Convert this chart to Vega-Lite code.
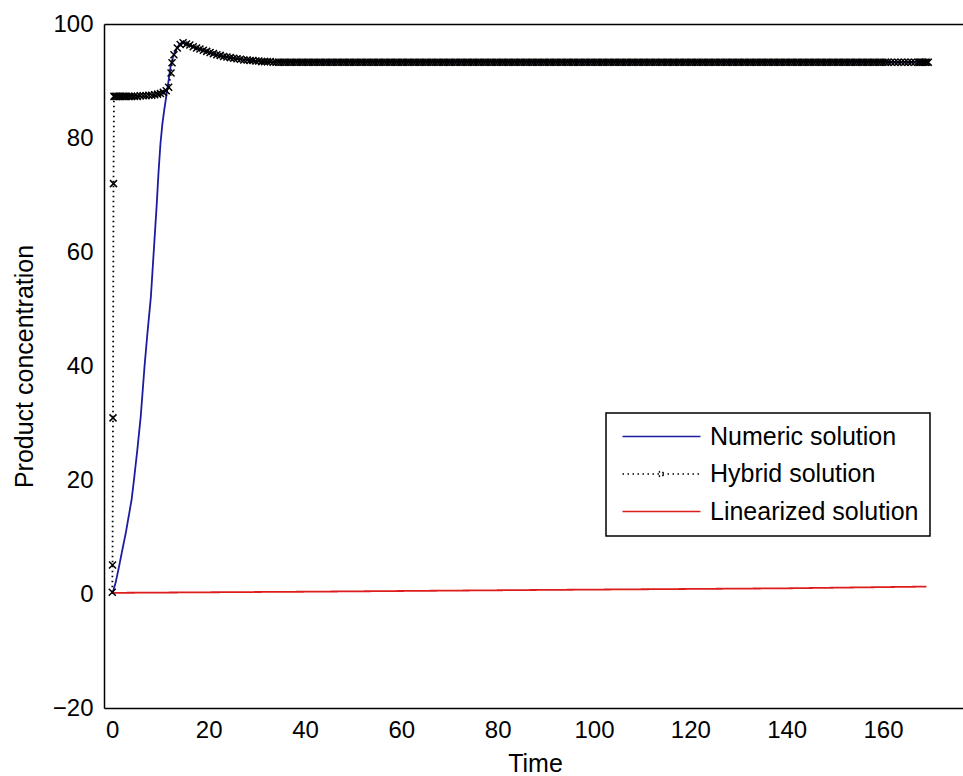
{
"$schema": "https://vega.github.io/schema/vega-lite/v6.json",
"width": 859, "height": 684,
"autosize": {"type": "none"},
"padding": {"left": 104, "top": 24, "right": 0, "bottom": 68},
"background": "white",
"datasets": {"d": [
{"s":"Numeric solution","t":0,"y":0},{"s":"Numeric solution","t":0.7,"y":2},{"s":"Numeric solution","t":1.4,"y":4.8},{"s":"Numeric solution","t":2.1,"y":7.8},{"s":"Numeric solution","t":2.8,"y":10.7},{"s":"Numeric solution","t":3.4,"y":13.6},{"s":"Numeric solution","t":4.0,"y":16.5},{"s":"Numeric solution","t":4.5,"y":20},{"s":"Numeric solution","t":5.2,"y":25.3},{"s":"Numeric solution","t":5.9,"y":31.1},{"s":"Numeric solution","t":6.7,"y":40},{"s":"Numeric solution","t":7.3,"y":45.8},{"s":"Numeric solution","t":8.0,"y":52},{"s":"Numeric solution","t":8.6,"y":60},{"s":"Numeric solution","t":9.2,"y":68},{"s":"Numeric solution","t":9.6,"y":74},{"s":"Numeric solution","t":10.0,"y":79},{"s":"Numeric solution","t":10.4,"y":82.5},{"s":"Numeric solution","t":10.8,"y":85},{"s":"Numeric solution","t":11.5,"y":89},{"s":"Numeric solution","t":12.1,"y":92.5},{"s":"Numeric solution","t":12.6,"y":94.2},{"s":"Numeric solution","t":13.2,"y":95.5},{"s":"Numeric solution","t":14.0,"y":96.5},{"s":"Numeric solution","t":14.6,"y":96.8},{"s":"Numeric solution","t":15.3,"y":96.6},{"s":"Numeric solution","t":16,"y":96.3},{"s":"Numeric solution","t":17,"y":95.9},{"s":"Numeric solution","t":18,"y":95.6},{"s":"Numeric solution","t":20,"y":95.0},{"s":"Numeric solution","t":23,"y":94.3},{"s":"Numeric solution","t":26,"y":93.9},{"s":"Numeric solution","t":30,"y":93.5},{"s":"Numeric solution","t":35,"y":93.3},{"s":"Numeric solution","t":169,"y":93.3},
{"s":"Linearized solution","t":0,"y":0.2},{"s":"Linearized solution","t":40,"y":0.4},{"s":"Linearized solution","t":87,"y":0.7},{"s":"Linearized solution","t":140,"y":1.0},{"s":"Linearized solution","t":169,"y":1.3},
{"s":"Hybrid solution","t":0,"y":0.3},{"s":"Hybrid solution","t":0.05,"y":5.1},{"s":"Hybrid solution","t":0.15,"y":30.9},{"s":"Hybrid solution","t":0.25,"y":72},{"s":"Hybrid solution","t":0.35,"y":87.3},{"s":"Hybrid solution","t":0.6,"y":87.3},{"s":"Hybrid solution","t":0.9,"y":87.3},{"s":"Hybrid solution","t":1.2,"y":87.3},{"s":"Hybrid solution","t":1.5,"y":87.3},{"s":"Hybrid solution","t":1.8,"y":87.3},{"s":"Hybrid solution","t":2.2,"y":87.3},{"s":"Hybrid solution","t":2.6,"y":87.3},{"s":"Hybrid solution","t":3.0,"y":87.3},{"s":"Hybrid solution","t":3.5,"y":87.3},{"s":"Hybrid solution","t":4.0,"y":87.3},{"s":"Hybrid solution","t":4.6,"y":87.3},{"s":"Hybrid solution","t":5.2,"y":87.3},{"s":"Hybrid solution","t":5.8,"y":87.4},{"s":"Hybrid solution","t":6.4,"y":87.4},{"s":"Hybrid solution","t":7.0,"y":87.4},{"s":"Hybrid solution","t":7.6,"y":87.5},{"s":"Hybrid solution","t":8.2,"y":87.5},{"s":"Hybrid solution","t":8.8,"y":87.6},{"s":"Hybrid solution","t":9.4,"y":87.7},{"s":"Hybrid solution","t":10.0,"y":87.8},{"s":"Hybrid solution","t":10.6,"y":88.0},{"s":"Hybrid solution","t":11.2,"y":88.3},{"s":"Hybrid solution","t":11.7,"y":88.9},{"s":"Hybrid solution","t":12.2,"y":91.4},{"s":"Hybrid solution","t":12.4,"y":93.2},{"s":"Hybrid solution","t":12.8,"y":94.6},{"s":"Hybrid solution","t":13.5,"y":95.8},{"s":"Hybrid solution","t":14.1,"y":96.4},{"s":"Hybrid solution","t":14.7,"y":96.7},
{"s":"Hybrid solution","t":15.4,"y":96.5},{"s":"Hybrid solution","t":16.1,"y":96.3},{"s":"Hybrid solution","t":16.8,"y":96.0},{"s":"Hybrid solution","t":17.5,"y":95.8},{"s":"Hybrid solution","t":18.2,"y":95.6},{"s":"Hybrid solution","t":18.9,"y":95.4},{"s":"Hybrid solution","t":19.6,"y":95.2},{"s":"Hybrid solution","t":20.3,"y":95.0},{"s":"Hybrid solution","t":21.0,"y":94.8},{"s":"Hybrid solution","t":21.7,"y":94.6},{"s":"Hybrid solution","t":22.4,"y":94.5},{"s":"Hybrid solution","t":23.1,"y":94.3},{"s":"Hybrid solution","t":23.8,"y":94.2},{"s":"Hybrid solution","t":24.5,"y":94.1},{"s":"Hybrid solution","t":25.2,"y":94.0},{"s":"Hybrid solution","t":25.9,"y":93.9},{"s":"Hybrid solution","t":26.6,"y":93.8},{"s":"Hybrid solution","t":27.3,"y":93.7},{"s":"Hybrid solution","t":28.0,"y":93.7},{"s":"Hybrid solution","t":28.6,"y":93.6},{"s":"Hybrid solution","t":29.2,"y":93.6},{"s":"Hybrid solution","t":29.8,"y":93.5},{"s":"Hybrid solution","t":30.4,"y":93.5},{"s":"Hybrid solution","t":31.0,"y":93.4},{"s":"Hybrid solution","t":31.6,"y":93.4},{"s":"Hybrid solution","t":32.2,"y":93.4},{"s":"Hybrid solution","t":32.8,"y":93.4},{"s":"Hybrid solution","t":33.4,"y":93.3},{"s":"Hybrid solution","t":34.0,"y":93.3},{"s":"Hybrid solution","t":34.5,"y":93.3},
{"s":"Hybrid solution","t":35,"y":93.3},{"s":"Hybrid solution","t":35.5,"y":93.3},{"s":"Hybrid solution","t":36,"y":93.3},{"s":"Hybrid solution","t":36.5,"y":93.3},{"s":"Hybrid solution","t":37,"y":93.3},{"s":"Hybrid solution","t":37.5,"y":93.3},{"s":"Hybrid solution","t":38,"y":93.3},{"s":"Hybrid solution","t":38.5,"y":93.3},{"s":"Hybrid solution","t":39,"y":93.3},{"s":"Hybrid solution","t":39.5,"y":93.3},
{"s":"Hybrid solution","t":40,"y":93.3},{"s":"Hybrid solution","t":40.5,"y":93.3},{"s":"Hybrid solution","t":41,"y":93.3},{"s":"Hybrid solution","t":41.5,"y":93.3},{"s":"Hybrid solution","t":42,"y":93.3},{"s":"Hybrid solution","t":42.5,"y":93.3},{"s":"Hybrid solution","t":43,"y":93.3},{"s":"Hybrid solution","t":43.5,"y":93.3},{"s":"Hybrid solution","t":44,"y":93.3},{"s":"Hybrid solution","t":44.5,"y":93.3},
{"s":"Hybrid solution","t":45,"y":93.3},{"s":"Hybrid solution","t":45.5,"y":93.3},{"s":"Hybrid solution","t":46,"y":93.3},{"s":"Hybrid solution","t":46.5,"y":93.3},{"s":"Hybrid solution","t":47,"y":93.3},{"s":"Hybrid solution","t":47.5,"y":93.3},{"s":"Hybrid solution","t":48,"y":93.3},{"s":"Hybrid solution","t":48.5,"y":93.3},{"s":"Hybrid solution","t":49,"y":93.3},{"s":"Hybrid solution","t":49.5,"y":93.3},
{"s":"Hybrid solution","t":50,"y":93.3},{"s":"Hybrid solution","t":50.5,"y":93.3},{"s":"Hybrid solution","t":51,"y":93.3},{"s":"Hybrid solution","t":51.5,"y":93.3},{"s":"Hybrid solution","t":52,"y":93.3},{"s":"Hybrid solution","t":52.5,"y":93.3},{"s":"Hybrid solution","t":53,"y":93.3},{"s":"Hybrid solution","t":53.5,"y":93.3},{"s":"Hybrid solution","t":54,"y":93.3},{"s":"Hybrid solution","t":54.5,"y":93.3},
{"s":"Hybrid solution","t":55,"y":93.3},{"s":"Hybrid solution","t":55.5,"y":93.3},{"s":"Hybrid solution","t":56,"y":93.3},{"s":"Hybrid solution","t":56.5,"y":93.3},{"s":"Hybrid solution","t":57,"y":93.3},{"s":"Hybrid solution","t":57.5,"y":93.3},{"s":"Hybrid solution","t":58,"y":93.3},{"s":"Hybrid solution","t":58.5,"y":93.3},{"s":"Hybrid solution","t":59,"y":93.3},{"s":"Hybrid solution","t":59.5,"y":93.3},
{"s":"Hybrid solution","t":60,"y":93.3},{"s":"Hybrid solution","t":60.5,"y":93.3},{"s":"Hybrid solution","t":61,"y":93.3},{"s":"Hybrid solution","t":61.5,"y":93.3},{"s":"Hybrid solution","t":62,"y":93.3},{"s":"Hybrid solution","t":62.5,"y":93.3},{"s":"Hybrid solution","t":63,"y":93.3},{"s":"Hybrid solution","t":63.5,"y":93.3},{"s":"Hybrid solution","t":64,"y":93.3},{"s":"Hybrid solution","t":64.5,"y":93.3},
{"s":"Hybrid solution","t":65,"y":93.3},{"s":"Hybrid solution","t":65.5,"y":93.3},{"s":"Hybrid solution","t":66,"y":93.3},{"s":"Hybrid solution","t":66.5,"y":93.3},{"s":"Hybrid solution","t":67,"y":93.3},{"s":"Hybrid solution","t":67.5,"y":93.3},{"s":"Hybrid solution","t":68,"y":93.3},{"s":"Hybrid solution","t":68.5,"y":93.3},{"s":"Hybrid solution","t":69,"y":93.3},{"s":"Hybrid solution","t":69.5,"y":93.3},
{"s":"Hybrid solution","t":70,"y":93.3},{"s":"Hybrid solution","t":70.5,"y":93.3},{"s":"Hybrid solution","t":71,"y":93.3},{"s":"Hybrid solution","t":71.5,"y":93.3},{"s":"Hybrid solution","t":72,"y":93.3},{"s":"Hybrid solution","t":72.5,"y":93.3},{"s":"Hybrid solution","t":73,"y":93.3},{"s":"Hybrid solution","t":73.5,"y":93.3},{"s":"Hybrid solution","t":74,"y":93.3},{"s":"Hybrid solution","t":74.5,"y":93.3},
{"s":"Hybrid solution","t":75,"y":93.3},{"s":"Hybrid solution","t":75.5,"y":93.3},{"s":"Hybrid solution","t":76,"y":93.3},{"s":"Hybrid solution","t":76.5,"y":93.3},{"s":"Hybrid solution","t":77,"y":93.3},{"s":"Hybrid solution","t":77.5,"y":93.3},{"s":"Hybrid solution","t":78,"y":93.3},{"s":"Hybrid solution","t":78.5,"y":93.3},{"s":"Hybrid solution","t":79,"y":93.3},{"s":"Hybrid solution","t":79.5,"y":93.3},
{"s":"Hybrid solution","t":80,"y":93.3},{"s":"Hybrid solution","t":80.5,"y":93.3},{"s":"Hybrid solution","t":81,"y":93.3},{"s":"Hybrid solution","t":81.5,"y":93.3},{"s":"Hybrid solution","t":82,"y":93.3},{"s":"Hybrid solution","t":82.5,"y":93.3},{"s":"Hybrid solution","t":83,"y":93.3},{"s":"Hybrid solution","t":83.5,"y":93.3},{"s":"Hybrid solution","t":84,"y":93.3},{"s":"Hybrid solution","t":84.5,"y":93.3},
{"s":"Hybrid solution","t":85,"y":93.3},{"s":"Hybrid solution","t":85.5,"y":93.3},{"s":"Hybrid solution","t":86,"y":93.3},{"s":"Hybrid solution","t":86.5,"y":93.3},{"s":"Hybrid solution","t":87,"y":93.3},{"s":"Hybrid solution","t":87.5,"y":93.3},{"s":"Hybrid solution","t":88,"y":93.3},{"s":"Hybrid solution","t":88.5,"y":93.3},{"s":"Hybrid solution","t":89,"y":93.3},{"s":"Hybrid solution","t":89.5,"y":93.3},
{"s":"Hybrid solution","t":90,"y":93.3},{"s":"Hybrid solution","t":90.5,"y":93.3},{"s":"Hybrid solution","t":91,"y":93.3},{"s":"Hybrid solution","t":91.5,"y":93.3},{"s":"Hybrid solution","t":92,"y":93.3},{"s":"Hybrid solution","t":92.5,"y":93.3},{"s":"Hybrid solution","t":93,"y":93.3},{"s":"Hybrid solution","t":93.5,"y":93.3},{"s":"Hybrid solution","t":94,"y":93.3},{"s":"Hybrid solution","t":94.5,"y":93.3},
{"s":"Hybrid solution","t":95,"y":93.3},{"s":"Hybrid solution","t":95.5,"y":93.3},{"s":"Hybrid solution","t":96,"y":93.3},{"s":"Hybrid solution","t":96.5,"y":93.3},{"s":"Hybrid solution","t":97,"y":93.3},{"s":"Hybrid solution","t":97.5,"y":93.3},{"s":"Hybrid solution","t":98,"y":93.3},{"s":"Hybrid solution","t":98.5,"y":93.3},{"s":"Hybrid solution","t":99,"y":93.3},{"s":"Hybrid solution","t":99.5,"y":93.3},
{"s":"Hybrid solution","t":100,"y":93.3},{"s":"Hybrid solution","t":100.5,"y":93.3},{"s":"Hybrid solution","t":101,"y":93.3},{"s":"Hybrid solution","t":101.5,"y":93.3},{"s":"Hybrid solution","t":102,"y":93.3},{"s":"Hybrid solution","t":102.5,"y":93.3},{"s":"Hybrid solution","t":103,"y":93.3},{"s":"Hybrid solution","t":103.5,"y":93.3},{"s":"Hybrid solution","t":104,"y":93.3},{"s":"Hybrid solution","t":104.5,"y":93.3},
{"s":"Hybrid solution","t":105,"y":93.3},{"s":"Hybrid solution","t":105.5,"y":93.3},{"s":"Hybrid solution","t":106,"y":93.3},{"s":"Hybrid solution","t":106.5,"y":93.3},{"s":"Hybrid solution","t":107,"y":93.3},{"s":"Hybrid solution","t":107.5,"y":93.3},{"s":"Hybrid solution","t":108,"y":93.3},{"s":"Hybrid solution","t":108.5,"y":93.3},{"s":"Hybrid solution","t":109,"y":93.3},{"s":"Hybrid solution","t":109.5,"y":93.3},
{"s":"Hybrid solution","t":110,"y":93.3},{"s":"Hybrid solution","t":110.5,"y":93.3},{"s":"Hybrid solution","t":111,"y":93.3},{"s":"Hybrid solution","t":111.5,"y":93.3},{"s":"Hybrid solution","t":112,"y":93.3},{"s":"Hybrid solution","t":112.5,"y":93.3},{"s":"Hybrid solution","t":113,"y":93.3},{"s":"Hybrid solution","t":113.5,"y":93.3},{"s":"Hybrid solution","t":114,"y":93.3},{"s":"Hybrid solution","t":114.5,"y":93.3},
{"s":"Hybrid solution","t":115,"y":93.3},{"s":"Hybrid solution","t":115.5,"y":93.3},{"s":"Hybrid solution","t":116,"y":93.3},{"s":"Hybrid solution","t":116.5,"y":93.3},{"s":"Hybrid solution","t":117,"y":93.3},{"s":"Hybrid solution","t":117.5,"y":93.3},{"s":"Hybrid solution","t":118,"y":93.3},{"s":"Hybrid solution","t":118.5,"y":93.3},{"s":"Hybrid solution","t":119,"y":93.3},{"s":"Hybrid solution","t":119.5,"y":93.3},
{"s":"Hybrid solution","t":120,"y":93.3},{"s":"Hybrid solution","t":120.5,"y":93.3},{"s":"Hybrid solution","t":121,"y":93.3},{"s":"Hybrid solution","t":121.5,"y":93.3},{"s":"Hybrid solution","t":122,"y":93.3},{"s":"Hybrid solution","t":122.5,"y":93.3},{"s":"Hybrid solution","t":123,"y":93.3},{"s":"Hybrid solution","t":123.5,"y":93.3},{"s":"Hybrid solution","t":124,"y":93.3},{"s":"Hybrid solution","t":124.5,"y":93.3},
{"s":"Hybrid solution","t":125,"y":93.3},{"s":"Hybrid solution","t":125.5,"y":93.3},{"s":"Hybrid solution","t":126,"y":93.3},{"s":"Hybrid solution","t":126.5,"y":93.3},{"s":"Hybrid solution","t":127,"y":93.3},{"s":"Hybrid solution","t":127.5,"y":93.3},{"s":"Hybrid solution","t":128,"y":93.3},{"s":"Hybrid solution","t":128.5,"y":93.3},{"s":"Hybrid solution","t":129,"y":93.3},{"s":"Hybrid solution","t":129.5,"y":93.3},
{"s":"Hybrid solution","t":130,"y":93.3},{"s":"Hybrid solution","t":130.5,"y":93.3},{"s":"Hybrid solution","t":131,"y":93.3},{"s":"Hybrid solution","t":131.5,"y":93.3},{"s":"Hybrid solution","t":132,"y":93.3},{"s":"Hybrid solution","t":132.5,"y":93.3},{"s":"Hybrid solution","t":133,"y":93.3},{"s":"Hybrid solution","t":133.5,"y":93.3},{"s":"Hybrid solution","t":134,"y":93.3},{"s":"Hybrid solution","t":134.5,"y":93.3},
{"s":"Hybrid solution","t":135,"y":93.3},{"s":"Hybrid solution","t":135.5,"y":93.3},{"s":"Hybrid solution","t":136,"y":93.3},{"s":"Hybrid solution","t":136.5,"y":93.3},{"s":"Hybrid solution","t":137,"y":93.3},{"s":"Hybrid solution","t":137.5,"y":93.3},{"s":"Hybrid solution","t":138,"y":93.3},{"s":"Hybrid solution","t":138.5,"y":93.3},{"s":"Hybrid solution","t":139,"y":93.3},{"s":"Hybrid solution","t":139.5,"y":93.3},
{"s":"Hybrid solution","t":140,"y":93.3},{"s":"Hybrid solution","t":140.5,"y":93.3},{"s":"Hybrid solution","t":141,"y":93.3},{"s":"Hybrid solution","t":141.5,"y":93.3},{"s":"Hybrid solution","t":142,"y":93.3},{"s":"Hybrid solution","t":142.5,"y":93.3},{"s":"Hybrid solution","t":143,"y":93.3},{"s":"Hybrid solution","t":143.5,"y":93.3},{"s":"Hybrid solution","t":144,"y":93.3},{"s":"Hybrid solution","t":144.5,"y":93.3},
{"s":"Hybrid solution","t":145,"y":93.3},{"s":"Hybrid solution","t":145.5,"y":93.3},{"s":"Hybrid solution","t":146,"y":93.3},{"s":"Hybrid solution","t":146.5,"y":93.3},{"s":"Hybrid solution","t":147,"y":93.3},{"s":"Hybrid solution","t":147.5,"y":93.3},{"s":"Hybrid solution","t":148,"y":93.3},{"s":"Hybrid solution","t":148.5,"y":93.3},{"s":"Hybrid solution","t":149,"y":93.3},{"s":"Hybrid solution","t":149.5,"y":93.3},
{"s":"Hybrid solution","t":150,"y":93.3},{"s":"Hybrid solution","t":150.5,"y":93.3},{"s":"Hybrid solution","t":151,"y":93.3},{"s":"Hybrid solution","t":151.5,"y":93.3},{"s":"Hybrid solution","t":152,"y":93.3},{"s":"Hybrid solution","t":152.5,"y":93.3},{"s":"Hybrid solution","t":153,"y":93.3},{"s":"Hybrid solution","t":153.5,"y":93.3},{"s":"Hybrid solution","t":154,"y":93.3},{"s":"Hybrid solution","t":154.5,"y":93.3},
{"s":"Hybrid solution","t":155,"y":93.3},{"s":"Hybrid solution","t":155.5,"y":93.3},{"s":"Hybrid solution","t":156,"y":93.3},{"s":"Hybrid solution","t":156.5,"y":93.3},{"s":"Hybrid solution","t":157,"y":93.3},{"s":"Hybrid solution","t":157.5,"y":93.3},{"s":"Hybrid solution","t":158,"y":93.3},{"s":"Hybrid solution","t":158.5,"y":93.3},{"s":"Hybrid solution","t":159,"y":93.3},{"s":"Hybrid solution","t":159.5,"y":93.3},
{"s":"Hybrid solution","t":160,"y":93.3},{"s":"Hybrid solution","t":160.5,"y":93.3},{"s":"Hybrid solution","t":161,"y":93.3},
{"s":"Hybrid solution","t":161.7,"y":93.3},{"s":"Hybrid solution","t":162.4,"y":93.3},{"s":"Hybrid solution","t":163.1,"y":93.3},{"s":"Hybrid solution","t":163.8,"y":93.3},{"s":"Hybrid solution","t":164.5,"y":93.3},{"s":"Hybrid solution","t":165.2,"y":93.3},{"s":"Hybrid solution","t":165.9,"y":93.3},{"s":"Hybrid solution","t":166.6,"y":93.3},{"s":"Hybrid solution","t":167.3,"y":93.3},{"s":"Hybrid solution","t":167.6,"y":93.3},{"s":"Hybrid solution","t":167.9,"y":93.3},{"s":"Hybrid solution","t":168.2,"y":93.3},{"s":"Hybrid solution","t":168.5,"y":93.3},{"s":"Hybrid solution","t":168.8,"y":93.3},{"s":"Hybrid solution","t":169.1,"y":93.3},{"s":"Hybrid solution","t":169.4,"y":93.3}
]},
"data": {"name": "d"},
"encoding": {
  "y": {"field": "y", "type": "quantitative",
    "scale": {"domain": [-20, 100], "nice": false, "zero": false},
    "axis": {"title": "Product concentration", "values": [-20, 0, 20, 40, 60, 80, 100], "tickSize": 0, "labelPadding": 11,
      "encode": {"ticks": {"update": {"x2": {"value": 9}}}},
      "titleX": -80, "titleY": 342, "titleAngle": -90, "titleAlign": "center", "titleBaseline": "middle"}}
},
"layer": [
  {"mark": {"type": "line", "strokeWidth": 1.8, "clip": true},
   "encoding": {
     "x": {"field": "t", "type": "quantitative",
       "scale": {"domain": [-1.72, 176.6], "nice": false, "zero": false},
       "axis": {"orient": "bottom", "title": "Time", "values": [0, 20, 40, 60, 80, 100, 120, 140, 160], "tickSize": 0, "labelPadding": 10,
         "encode": {"ticks": {"update": {"y2": {"value": -9}}}},
         "titleX": 431, "titleY": 55, "titleBaseline": "middle", "titleAlign": "center"}},
     "color": {"field": "s", "type": "nominal",
       "scale": {"domain": ["Numeric solution", "Hybrid solution", "Linearized solution"], "range": ["#1c1ca0", "#000000", "#dd1c1c"]},
       "legend": {"title": null, "orient": "none", "legendX": 502, "legendY": 389, "direction": "vertical",
         "strokeColor": "black", "fillColor": "white", "padding": 11, "cornerRadius": 0,
         "symbolType": "M-6,0H6", "symbolSize": 169, "symbolStrokeWidth": 1.5, "symbolOffset": 32,
         "labelOffset": 36, "labelFontSize": 25, "labelFont": "Liberation Sans", "labelColor": "black", "labelLimit": 0,
         "rowPadding": 11.5,
         "encode": {"symbols": {"update": {"shape": {"signal": "datum.value === 'Hybrid solution' ? 'M-6,0H6M-0.4,-0.4L0.4,0.4M-0.4,0.4L0.4,-0.4' : 'M-6,0H6'"}}},
                    "legend": {"update": {"strokeWidth": {"value": 1.5}}}}}},
     "strokeDash": {"field": "s", "type": "nominal",
       "scale": {"domain": ["Numeric solution", "Hybrid solution", "Linearized solution"], "range": [[1, 0], [1.5, 3.5], [1, 0]]},
       "legend": {"title": null, "orient": "none", "legendX": 502, "legendY": 389, "direction": "vertical",
         "strokeColor": "black", "fillColor": "white", "padding": 11, "cornerRadius": 0,
         "symbolType": "M-6,0H6", "symbolSize": 169, "symbolStrokeWidth": 1.5, "symbolOffset": 32,
         "labelOffset": 36, "labelFontSize": 25, "labelFont": "Liberation Sans", "labelColor": "black", "labelLimit": 0,
         "rowPadding": 11.5}}
   }},
  {"transform": [{"filter": "datum.s === 'Hybrid solution'"}],
   "mark": {"type": "point", "shape": "M-1,-1L1,1M-1,1L1,-1", "size": 49, "filled": false, "strokeWidth": 1.5, "color": "black", "opacity": 1, "clip": true},
   "encoding": {
     "x": {"field": "t", "type": "quantitative",
       "axis": {"orient": "top", "labels": false, "title": null, "values": [0, 20, 40, 60, 80, 100, 120, 140, 160], "tickSize": 0,
         "encode": {"ticks": {"update": {"y2": {"value": 9}}}}}}
   }}
],
"resolve": {"axis": {"x": "independent"}},
"config": {
  "view": {"stroke": null},
  "axis": {"grid": false, "domainColor": "black", "domainWidth": 1.5, "tickColor": "black", "tickWidth": 1.5,
    "labelFont": "Liberation Sans", "labelFontSize": 24, "labelColor": "black",
    "titleFont": "Liberation Sans", "titleFontSize": 25, "titleFontWeight": "normal", "titleColor": "black",
    "labelFlush": false, "labelOverlap": false}
}
}
